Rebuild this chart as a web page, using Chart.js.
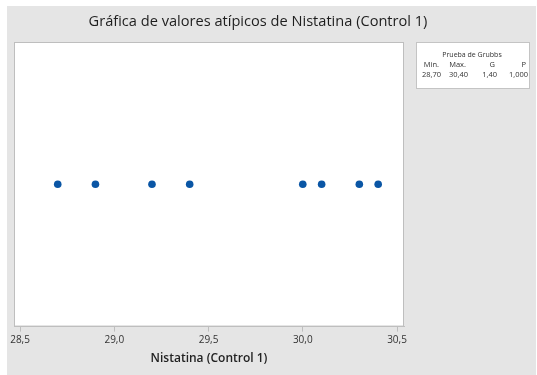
<!DOCTYPE html>
<html>
<head>
<meta charset="utf-8">
<script src="https://cdn.jsdelivr.net/npm/chart.js@4/dist/chart.umd.min.js"></script>
<style>
html,body{margin:0;padding:0;background:#fff;overflow:hidden;}
#wrap{width:537px;height:375px;}
canvas{display:block;}
</style>
</head>
<body>
<div id="wrap"><canvas id="c" width="537" height="375"></canvas></div>
<script>
const values = [28.7, 28.9, 29.2, 29.4, 30.0, 30.1, 30.3, 30.4];
const xTicks = [28.5, 29.0, 29.5, 30.0, 30.5];
const chartTitle = 'Gráfica de valores atípicos de Nistatina (Control 1)';
const axisTitle = 'Nistatina (Control 1)';
const statsTitle = 'Prueba de Grubbs';
const statsHeaders = ['Min.', 'Max.', 'G', 'P'];
const statsValues = ['28,70', '30,40', '1,40', '1,000'];

const FONT = "'Open Sans', 'Noto Sans', sans-serif";
const fmt = v => v.toFixed(1).replace('.', ',');

const decor = {
  id: 'decor',
  beforeDraw(chart) {
    const ctx = chart.ctx, a = chart.chartArea;
    ctx.save();
    ctx.fillStyle = '#fff';
    ctx.fillRect(0, 0, chart.width, chart.height);
    ctx.fillStyle = '#e5e5e5';
    ctx.fillRect(7, 6, chart.width - 8, chart.height - 6);
    ctx.fillStyle = '#fff';
    ctx.fillRect(a.left, a.top, a.right - a.left, a.bottom - a.top);
    ctx.restore();
  },
  afterDraw(chart) {
    const ctx = chart.ctx, a = chart.chartArea;
    ctx.save();
    ctx.strokeStyle = '#bebebe';
    ctx.lineWidth = 1;
    ctx.strokeRect(a.left + 0.5, a.top + 0.5, a.right - a.left - 1, a.bottom - a.top - 1);
    // chart title
    ctx.fillStyle = '#1e1e1e';
    ctx.textAlign = 'center';
    ctx.textBaseline = 'middle';
    ctx.font = "14.6px " + FONT;
    ctx.fillText(chartTitle, 258, 22);
    // Grubbs box
    const bx = 416, by = 42, bw = 114, bh = 47;
    ctx.fillStyle = '#fff';
    ctx.fillRect(bx, by, bw, bh);
    ctx.strokeStyle = '#c4c4c4';
    ctx.strokeRect(bx + 0.5, by + 0.5, bw - 1, bh - 1);
    ctx.fillStyle = '#333';
    ctx.textAlign = 'center';
    ctx.font = "7px " + FONT;
    ctx.fillText(statsTitle, 472, 55);
    ctx.textAlign = 'right';
    ctx.font = "7.5px " + FONT;
    const cols = [439, 466, 495, 526];
    statsHeaders.forEach((h, i) => ctx.fillText(h, cols[i], 65));
    statsValues.forEach((v, i) => ctx.fillText(v, cols[i] + 2, 75));
    ctx.restore();
  }
};

new Chart(document.getElementById('c'), {
  type: 'scatter',
  data: {
    datasets: [{
      data: values.map(v => ({x: v, y: 0})),
      backgroundColor: '#0a56a5',
      borderColor: '#0a56a5',
      pointRadius: 3.8,
      pointHoverRadius: 3.8,
      borderWidth: 0
    }]
  },
  options: {
    responsive: false,
    animation: false,
    devicePixelRatio: 1,
    layout: {padding: {left: 14, right: 133, top: 42, bottom: 3}},
    plugins: {
      legend: {display: false},
      tooltip: {enabled: false},
      title: {display: false}
    },
    scales: {
      x: {
        type: 'linear',
        min: 28.468,
        max: 30.537,
        afterBuildTicks(scale) { scale.ticks = xTicks.map(v => ({value: v})); },
        ticks: {
          includeBounds: false,
          padding: 3,
          color: '#333',
          font: {family: FONT, size: 10},
          callback: v => fmt(v)
        },
        grid: {drawOnChartArea: false, drawTicks: true, tickLength: 5, color: '#bebebe'},
        border: {display: true, color: '#bebebe'},
        title: {
          display: true,
          text: axisTitle,
          color: '#222',
          font: {family: FONT, size: 12, weight: '600'},
          padding: {top: 2, bottom: 6}
        }
      },
      y: {
        display: false,
        min: -1,
        max: 1
      }
    }
  },
  plugins: [decor]
});
</script>
</body>
</html>
